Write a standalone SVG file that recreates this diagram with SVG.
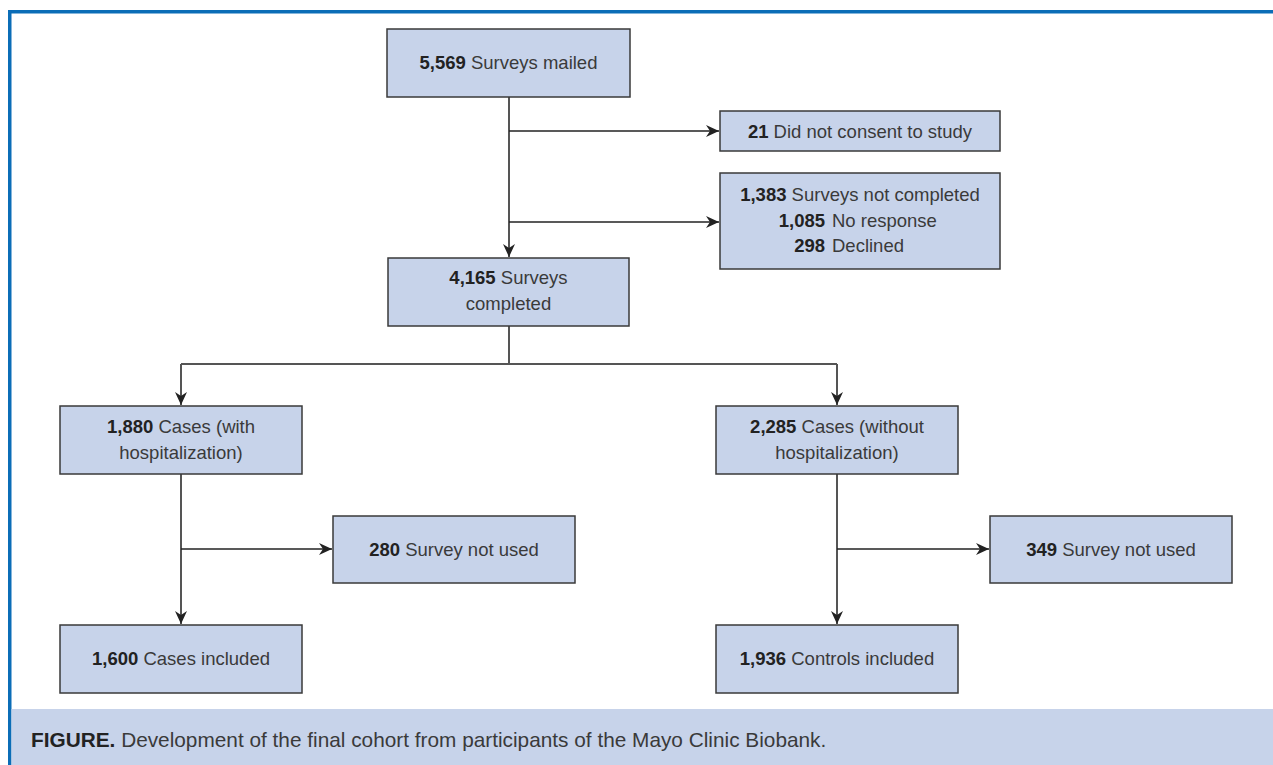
<svg xmlns="http://www.w3.org/2000/svg" width="1273" height="765" viewBox="0 0 1273 765">
<defs>
<style>
.box{fill:#c7d3ea;stroke:#3a3a3a;stroke-width:1.5}
.t{font-family:"Liberation Sans",Arial,sans-serif;font-size:18.5px;fill:#3a3a3a;text-anchor:middle}
.b{font-weight:bold;fill:#222}
.trunk{stroke:#555;stroke-width:2;fill:none}
.br{stroke:#222;stroke-width:1.5;fill:none}
.cap{font-family:"Liberation Sans",Arial,sans-serif;font-size:20.8px;fill:#3a3a3a}
</style>
<marker id="ah" markerUnits="userSpaceOnUse" markerWidth="14" markerHeight="12" refX="13" refY="6" orient="auto">
<path d="M0,0 L13,6 L0,12 L4,6 z" fill="#222"/>
</marker>
</defs>
<rect width="1273" height="765" fill="#ffffff"/>
<g id="frame">
<rect x="8" y="10" width="1265" height="3.5" fill="#0b6db7"/>
<rect x="8" y="10" width="3.5" height="755" fill="#0b6db7"/>
<rect x="11.5" y="709" width="1261.5" height="56" fill="#c7d3ea"/>
<text class="cap" x="31" y="747"><tspan font-weight="bold" fill="#222">FIGURE.</tspan> Development of the final cohort from participants of the Mayo Clinic Biobank.</text>
</g>
<g id="connectors">
<line class="trunk" x1="509" y1="97" x2="509" y2="257" marker-end="url(#ah)"/>
<line class="br" x1="509" y1="131" x2="719" y2="131" marker-end="url(#ah)"/>
<line class="br" x1="509" y1="222" x2="719" y2="222" marker-end="url(#ah)"/>
<polyline class="trunk" points="509,326 509,364"/>
<line class="trunk" x1="181" y1="364" x2="837" y2="364"/>
<line class="trunk" x1="181" y1="364" x2="181" y2="405" marker-end="url(#ah)"/>
<line class="trunk" x1="837" y1="364" x2="837" y2="405" marker-end="url(#ah)"/>
<line class="trunk" x1="181" y1="474" x2="181" y2="624" marker-end="url(#ah)"/>
<line class="br" x1="181" y1="549" x2="332" y2="549" marker-end="url(#ah)"/>
<line class="trunk" x1="837" y1="474" x2="837" y2="624" marker-end="url(#ah)"/>
<line class="br" x1="837" y1="549" x2="989" y2="549" marker-end="url(#ah)"/>
</g>
<g id="n-mailed">
<rect class="box" x="387" y="29" width="243" height="68"/>
<text class="t" x="508.5" y="69"><tspan class="b">5,569</tspan> Surveys mailed</text>
</g>
<g id="n-noconsent">
<rect class="box" x="720" y="111" width="280" height="40"/>
<text class="t" x="860" y="138"><tspan class="b">21</tspan> Did not consent to study</text>
</g>
<g id="n-notcompleted">
<rect class="box" x="720" y="173" width="280" height="96"/>
<text class="t" x="860" y="201"><tspan class="b">1,383</tspan> Surveys not completed</text>
<text class="t b" x="825" y="227" style="text-anchor:end">1,085</text>
<text class="t" x="832" y="227" style="text-anchor:start">No response</text>
<text class="t b" x="825" y="252" style="text-anchor:end">298</text>
<text class="t" x="832" y="252" style="text-anchor:start">Declined</text>
</g>
<g id="n-completed">
<rect class="box" x="388" y="258" width="241" height="68"/>
<text class="t" x="508.5" y="284"><tspan class="b">4,165</tspan> Surveys</text>
<text class="t" x="508.5" y="310">completed</text>
</g>
<g id="n-with">
<rect class="box" x="60" y="406" width="242" height="68"/>
<text class="t" x="181" y="433"><tspan class="b">1,880</tspan> Cases (with</text>
<text class="t" x="181" y="459">hospitalization)</text>
</g>
<g id="n-without">
<rect class="box" x="716" y="406" width="242" height="68"/>
<text class="t" x="837" y="433"><tspan class="b">2,285</tspan> Cases (without</text>
<text class="t" x="837" y="459">hospitalization)</text>
</g>
<g id="n-notused1">
<rect class="box" x="333" y="516" width="242" height="67"/>
<text class="t" x="454" y="556"><tspan class="b">280</tspan> Survey not used</text>
</g>
<g id="n-notused2">
<rect class="box" x="990" y="516" width="242" height="67"/>
<text class="t" x="1111" y="556"><tspan class="b">349</tspan> Survey not used</text>
</g>
<g id="n-cases">
<rect class="box" x="60" y="625" width="242" height="68"/>
<text class="t" x="181" y="665"><tspan class="b">1,600</tspan> Cases included</text>
</g>
<g id="n-controls">
<rect class="box" x="716" y="625" width="242" height="68"/>
<text class="t" x="837" y="665"><tspan class="b">1,936</tspan> Controls included</text>
</g>
</svg>
